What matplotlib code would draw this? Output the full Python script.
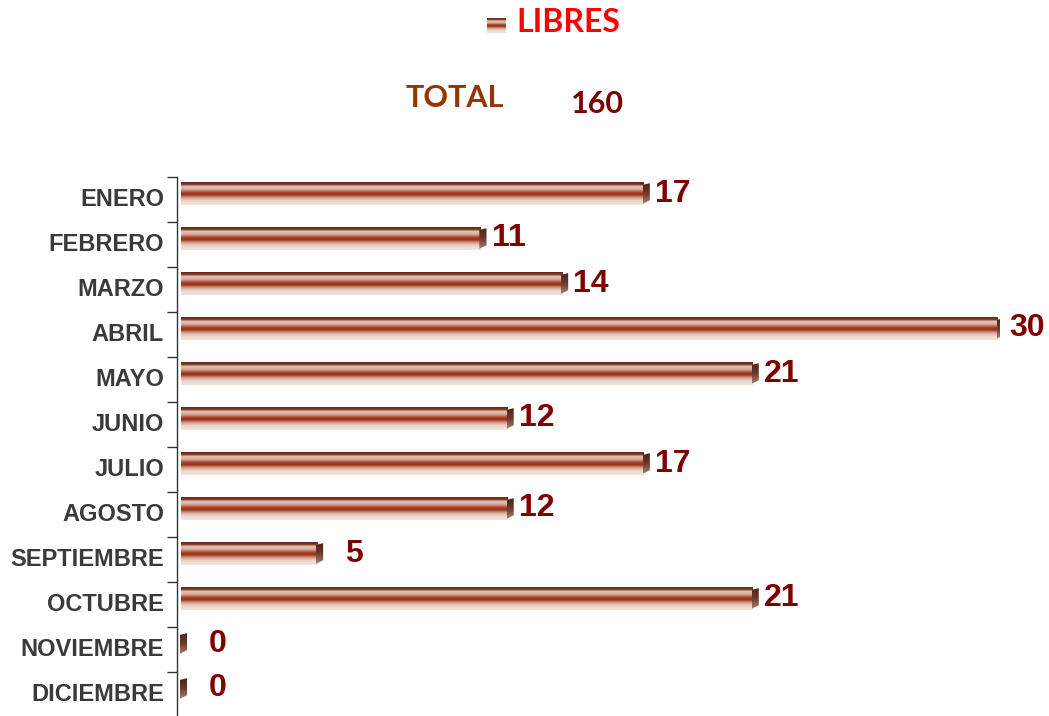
import matplotlib
matplotlib.use("Agg")
import matplotlib.pyplot as plt
import numpy as np
from matplotlib.colors import LinearSegmentedColormap
from matplotlib.patches import Polygon, Rectangle
from matplotlib.transforms import offset_copy

months = ["ENERO", "FEBRERO", "MARZO", "ABRIL", "MAYO", "JUNIO", "JULIO",
          "AGOSTO", "SEPTIEMBRE", "OCTUBRE", "NOVIEMBRE", "DICIEMBRE"]
values = [17, 11, 14, 30, 21, 12, 17, 12, 5, 21, 0, 0]
series_name = "LIBRES"
total_label = "TOTAL"
total_value = 160

W, H = 1049, 716
fig = plt.figure(figsize=(W / 100, H / 100), dpi=100)
# category slots are 45 px tall, first boundary at y=177 px
ax = fig.add_axes([177 / W, 1 - 717 / H, (1000 - 177) / W, 540 / H])

ax.set_xlim(-0.147, 30.08)
ax.set_ylim(len(months) - 0.5, -0.5)

# vertical stripe gradient: top edge dark, pale band, red core, pale bottom
bar_cmap = LinearSegmentedColormap.from_list("bar", [
    (0.00, "#6a2a16"),
    (0.10, "#7a3520"),
    (0.18, "#e6c6ba"),
    (0.32, "#d8a898"),
    (0.45, "#a8402a"),
    (0.55, "#9a2e12"),
    (0.68, "#d0a090"),
    (0.82, "#ecd6cc"),
    (1.00, "#f3e4de"),
])
cap_cmap = LinearSegmentedColormap.from_list("cap", ["#4a2014", "#6e3a2a", "#b08878"])
grad = np.linspace(0, 1, 64).reshape(-1, 1)

bar_h = 0.5
shift = 6 / 45  # bars sit a little above the slot centre
px = 30.08 / (1000 - 181)  # data units per pixel approx
for i, v in enumerate(values):
    c = i - shift
    top, bot = c - bar_h / 2, c + bar_h / 2
    if v > 0:
        im = ax.imshow(grad, cmap=bar_cmap, aspect="auto",
                       extent=(0, v, bot, top), zorder=2, interpolation="bilinear")
        clip = Rectangle((0, top), v, bar_h, transform=ax.transData)
        im.set_clip_path(clip)
    # end cap
    cw = 6 * px
    cap = Polygon([(v - cw * 0.2, top + 0.06), (v + cw, top + 0.02),
                   (v + cw, bot - 0.1), (v - cw * 0.2, bot - 0.02)],
                  closed=True, transform=ax.transData)
    cim = ax.imshow(grad, cmap=cap_cmap, aspect="auto",
                    extent=(v - cw * 0.2, v + cw, bot, top), zorder=3,
                    interpolation="bilinear")
    cim.set_clip_path(cap)

    lab_tr = offset_copy(ax.transData, fig=fig, x=11 if v >= 10 else 28, y=0, units="dots")
    ax.text(v, c, str(v), transform=lab_tr, ha="left", va="center",
            fontsize=23, fontweight="bold", color="#800000",
            family="Liberation Sans", zorder=4, clip_on=False)

# category labels
for i, m in enumerate(months):
    ax.text(-0.147 - 13 * px, i, m, ha="right", va="center",
            fontsize=17, fontweight="bold", color="#3a3a3a",
            family="Liberation Sans")

ax.set_yticks(np.arange(len(months) + 1) - 0.5)
ax.set_yticklabels([])
ax.tick_params(axis="y", direction="out", length=7, width=1, color="#333333")
ax.set_xticks([])
for s in ["top", "right", "bottom"]:
    ax.spines[s].set_visible(False)
ax.spines["left"].set_color("#333333")
ax.spines["left"].set_linewidth(1)

# legend swatch
lax = fig.add_axes([487 / W, 1 - 33 / H, 19 / W, 15 / H])
lax.imshow(grad, cmap=bar_cmap, aspect="auto", interpolation="bilinear")
lax.axis("off")
fig.text(516 / W, 1 - 23 / H, series_name, ha="left", va="center",
         fontsize=23, fontweight="bold", color="#ff0000", family="Lato")

fig.text(405 / W, 1 - 98 / H, total_label, ha="left", va="center",
         fontsize=22, fontweight="bold", color="#993300", family="Lato")
fig.text(571 / W, 1 - 104 / H, str(total_value), ha="left", va="center",
         fontsize=22, fontweight="bold", color="#7a0000", family="Lato")

fig.savefig("out.png", dpi=100)
